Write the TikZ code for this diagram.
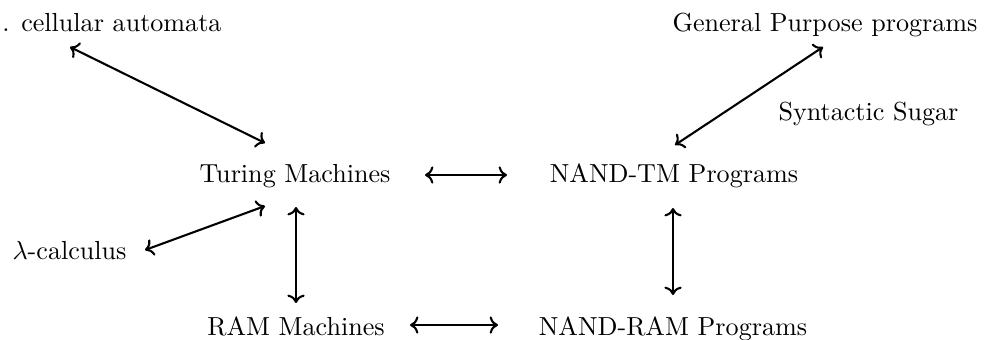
\documentclass[tikz,border=0pt]{standalone}
\usetikzlibrary{calc,arrows.meta}
\begin{document}
\begin{tikzpicture}[x=0.3831pt, y=-0.3831pt,
  lbl/.style={inner sep=0pt, anchor=base},
  link/.style={{Computer Modern Rightarrow[length=3.2pt,width=6.6pt]}-{Computer Modern Rightarrow[length=3.2pt,width=6.6pt]}, line width=0.8pt}]
\useasboundingbox (0,0) rectangle (984,339);

% models of computation
\node[lbl] (tm)   at (295,182) {Turing Machines};
\node[lbl] (ntm)  at (674,182) {NAND-TM Programs};
\node[lbl] (ram)  at (296,335) {RAM Machines};
\node[lbl] (nram) at (673,335) {NAND-RAM Programs};
\node[lbl, anchor=base west] (lam) at (12,259) {$\lambda$-calculus};
\node[lbl, anchor=base east] (ca)  at (222,31) {. cellular automata};
\node[lbl, anchor=base west] (gp)  at (672,31) {General Purpose programs};
\node[lbl, anchor=base west] (ss)  at (778,120) {Syntactic Sugar};

% equivalences
\draw[link] ($(ca.base east)+(-152,16)$) -- ($(tm.base)+(-30,-39)$);
\draw[link] ($(gp.base west)+(151,16)$) -- ($(ntm.base)+(1,-37)$);
\draw[link] ($(tm.base)+(130,-7)$) -- ($(ntm.base)+(-167,-7)$);
\draw[link] ($(lam.base west)+(133,-9)$) -- ($(tm.base)+(-30,24)$);
\draw[link] ($(tm.base)+(1,25)$) -- ($(ram.base)+(0,-32)$);
\draw[link] ($(ntm.base)+(-1,26)$) -- ($(nram.base)+(0,-40)$);
\draw[link] ($(ram.base)+(114,-10)$) -- ($(nram.base)+(-175,-10)$);
\end{tikzpicture}
\end{document}
